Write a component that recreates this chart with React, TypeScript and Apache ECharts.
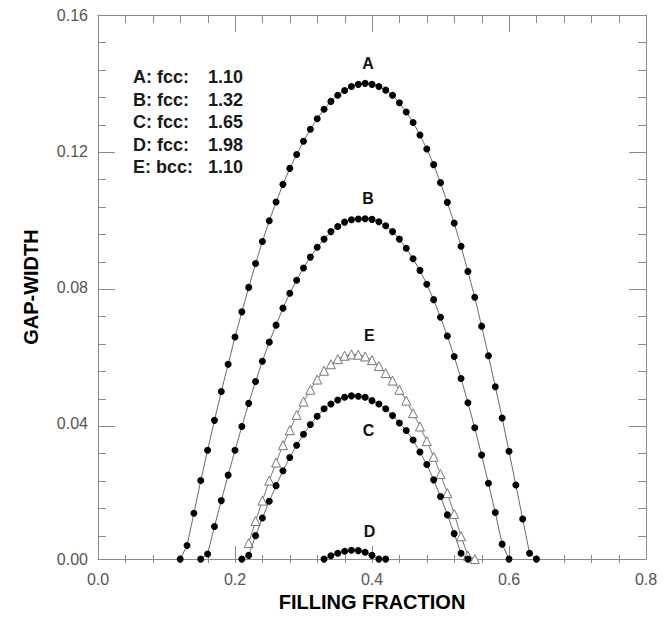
import React, { useEffect, useRef } from "react";
import * as echarts from "echarts";

// Curve A: fcc 1.10
const aX = [0.12, 0.13, 0.14, 0.15, 0.16, 0.17, 0.18, 0.19, 0.20, 0.21, 0.22, 0.23, 0.24, 0.25, 0.26, 0.27, 0.28, 0.29, 0.30, 0.31, 0.32, 0.33, 0.34, 0.35, 0.36, 0.37, 0.38, 0.39, 0.40, 0.41, 0.42, 0.43, 0.44, 0.45, 0.46, 0.47, 0.48, 0.49, 0.50, 0.51, 0.52, 0.53, 0.54, 0.55, 0.56, 0.57, 0.58, 0.59, 0.60, 0.61, 0.62, 0.63, 0.64];
const aY = [0, 0.0040, 0.0135, 0.0231, 0.0320, 0.0408, 0.0493, 0.0573, 0.0653, 0.0727, 0.0799, 0.0869, 0.0934, 0.0995, 0.1050, 0.1102, 0.1149, 0.1190, 0.1229, 0.1264, 0.1295, 0.1323, 0.1346, 0.1364, 0.1378, 0.1390, 0.1396, 0.1399, 0.1396, 0.1390, 0.1379, 0.1364, 0.1342, 0.1315, 0.1284, 0.1247, 0.1206, 0.1160, 0.1107, 0.1049, 0.0988, 0.0920, 0.0846, 0.0770, 0.0685, 0.0598, 0.0507, 0.0415, 0.0317, 0.0218, 0.0118, 0.0017, 0];

// Curve B: fcc 1.32
const bX = [0.15, 0.16, 0.17, 0.18, 0.19, 0.20, 0.21, 0.22, 0.23, 0.24, 0.25, 0.26, 0.27, 0.28, 0.29, 0.30, 0.31, 0.32, 0.33, 0.34, 0.35, 0.36, 0.37, 0.38, 0.39, 0.40, 0.41, 0.42, 0.43, 0.44, 0.45, 0.46, 0.47, 0.48, 0.49, 0.50, 0.51, 0.52, 0.53, 0.54, 0.55, 0.56, 0.57, 0.58, 0.59, 0.60];
const bY = [0, 0.0015, 0.0096, 0.0172, 0.0247, 0.0320, 0.0390, 0.0458, 0.0522, 0.0582, 0.0638, 0.0688, 0.0738, 0.0782, 0.0820, 0.0856, 0.0888, 0.0917, 0.0941, 0.0963, 0.0978, 0.0991, 0.0998, 0.1000, 0.1001, 0.0999, 0.0992, 0.0980, 0.0963, 0.0941, 0.0914, 0.0883, 0.0849, 0.0808, 0.0763, 0.0711, 0.0656, 0.0596, 0.0531, 0.0460, 0.0386, 0.0306, 0.0223, 0.0137, 0.0044, 0];

// Curve C: fcc 1.65
const cX = [0.21, 0.22, 0.23, 0.24, 0.25, 0.26, 0.27, 0.28, 0.29, 0.30, 0.31, 0.32, 0.33, 0.34, 0.35, 0.36, 0.37, 0.38, 0.39, 0.40, 0.41, 0.42, 0.43, 0.44, 0.45, 0.46, 0.47, 0.48, 0.49, 0.50, 0.51, 0.52, 0.53, 0.54];
const cY = [0, 0.0011, 0.0069, 0.0121, 0.0170, 0.0216, 0.0260, 0.0299, 0.0335, 0.0367, 0.0396, 0.0420, 0.0442, 0.0456, 0.0468, 0.0476, 0.0480, 0.0479, 0.0476, 0.0466, 0.0456, 0.0442, 0.0422, 0.0400, 0.0378, 0.0350, 0.0315, 0.0278, 0.0233, 0.0184, 0.0130, 0.0075, 0.0017, 0];

// Curve D: fcc 1.98
const dX = [0.33, 0.34, 0.35, 0.36, 0.37, 0.38, 0.39, 0.40, 0.41, 0.42];
const dY = [0, 0.0010, 0.0017, 0.0023, 0.0026, 0.0025, 0.0020, 0.0011, 0, 0];

// Curve E: bcc 1.10
const eX = [0.22, 0.23, 0.24, 0.25, 0.26, 0.27, 0.28, 0.29, 0.30, 0.31, 0.32, 0.33, 0.34, 0.35, 0.36, 0.37, 0.38, 0.39, 0.40, 0.41, 0.42, 0.43, 0.44, 0.45, 0.46, 0.47, 0.48, 0.49, 0.50, 0.51, 0.52, 0.53, 0.54, 0.55];
const eY = [0.0047, 0.0112, 0.0172, 0.0231, 0.0284, 0.0335, 0.0379, 0.0424, 0.0463, 0.0498, 0.0528, 0.0554, 0.0573, 0.0588, 0.0598, 0.0602, 0.0601, 0.0596, 0.0585, 0.0568, 0.0547, 0.0525, 0.0498, 0.0466, 0.0429, 0.0390, 0.0347, 0.0301, 0.0250, 0.0194, 0.0133, 0.0067, 0.0010, 0];

const legendNames = ["A: fcc:", "B: fcc:", "C: fcc:", "D: fcc:", "E: bcc:"];
const legendValues = ["1.10", "1.32", "1.65", "1.98", "1.10"];

// axis ranges
const X_MIN = 0, X_MAX = 0.8, X_STEP = 0.2, X_MINOR = 0.04;
const Y_MIN = 0, Y_MAX = 0.16, Y_STEP = 0.04, Y_MINOR = 0.008;

const W = 667, H = 617;
const GRID = { left: 98, right: 21, top: 15, bottom: 54 };

const FONT = '"Liberation Sans", Arial, Helvetica, sans-serif';
const AXIS_COLOR = "#8a8a8a";

function pairs(xs: number[], ys: number[]) {
  return xs.map((x, i) => [x, ys[i]]);
}

function frame() {
  return {
    axisLine: { show: true, onZero: false, lineStyle: { color: AXIS_COLOR, width: 1 } },
    axisTick: { show: false },
    splitLine: { show: false },
  };
}

// tick marks of the frame (inside, on all four sides), drawn as thin filled rects
function buildTicks() {
  const xL = GRID.left, xR = W - GRID.right, yT = GRID.top, yB = H - GRID.bottom;
  const xp = (v: number) => xL + ((v - X_MIN) / (X_MAX - X_MIN)) * (xR - xL);
  const yp = (v: number) => yB - ((v - Y_MIN) / (Y_MAX - Y_MIN)) * (yB - yT);
  const els: any[] = [];
  const tickRect = (x: number, y: number, w: number, h: number) => ({
    type: "rect",
    shape: { x, y, width: w, height: h },
    style: { fill: AXIS_COLOR },
  });
  const nx = Math.round((X_MAX - X_MIN) / X_MINOR);
  const perX = Math.round(X_STEP / X_MINOR);
  for (let i = 1; i < nx; i++) {
    const len = i % perX === 0 ? 17 : 8;
    const px = Math.round(xp(X_MIN + i * X_MINOR));
    els.push(tickRect(px, yB - len, 1, len));
    els.push(tickRect(px, yT, 1, len));
  }
  const ny = Math.round((Y_MAX - Y_MIN) / Y_MINOR);
  const perY = Math.round(Y_STEP / Y_MINOR);
  for (let i = 1; i < ny; i++) {
    const len = i % perY === 0 ? 17 : 8;
    const py = Math.round(yp(Y_MIN + i * Y_MINOR));
    els.push(tickRect(xL, py, len, 1));
    els.push(tickRect(xR - len, py, len, 1));
  }
  return els;
}

export default function App() {
  const ref = useRef<HTMLDivElement>(null);
  useEffect(() => {
    if (!ref.current) return;
    const chart = echarts.init(ref.current, null, { renderer: "svg" });
    const labelStyle = { color: "#555", fontSize: 16, fontFamily: FONT };

    const mkLabel = (txt: string, dx: number, dy: number) => ({
      symbol: "circle",
      symbolSize: 0,
      silent: true,
      data: [{ type: "max" }],
      label: {
        show: true,
        position: "inside",
        formatter: txt,
        offset: [dx, dy],
        color: "#111",
        fontSize: 16,
        fontWeight: "bold",
        fontFamily: FONT,
      },
    });

    const dotSeries = (name: string, xs: number[], ys: number[], lbl: any) => ({
      name,
      type: "line",
      data: pairs(xs, ys),
      symbol: "circle",
      symbolSize: 7,
      showSymbol: true,
      lineStyle: { color: "#6a6a6a", width: 1 },
      itemStyle: { color: "#000", borderWidth: 0 },
      markPoint: lbl,
      z: 3,
    });

    const textEls: any[] = [
      ...legendNames.map((t, i) => ({
        type: "text",
        x: 133,
        y: 77 + i * 22.6,
        style: { text: t, fill: "#1a1a1a", fontSize: 18, fontWeight: "bold", fontFamily: FONT, verticalAlign: "middle" },
      })),
      ...legendValues.map((t, i) => ({
        type: "text",
        x: 208,
        y: 77 + i * 22.6,
        style: { text: t, fill: "#1a1a1a", fontSize: 18, fontWeight: "bold", fontFamily: FONT, verticalAlign: "middle" },
      })),
    ];

    const option: any = {
      animation: false,
      grid: { ...GRID },
      xAxis: [
        {
          type: "value",
          min: X_MIN,
          max: X_MAX,
          interval: X_STEP,
          position: "bottom",
          name: "FILLING FRACTION",
          nameLocation: "middle",
          nameGap: 31,
          nameTextStyle: { color: "#000", fontSize: 20, fontWeight: "bold", fontFamily: FONT },
          ...frame(),
          axisLabel: { ...labelStyle, margin: 12, formatter: (v: number) => v.toFixed(1) },
        },
        {
          type: "value",
          min: X_MIN,
          max: X_MAX,
          interval: X_STEP,
          position: "top",
          ...frame(),
          axisLabel: { show: false },
        },
      ],
      yAxis: [
        {
          type: "value",
          min: Y_MIN,
          max: Y_MAX,
          interval: Y_STEP,
          position: "left",
          name: "GAP-WIDTH",
          nameLocation: "middle",
          nameGap: 57,
          nameTextStyle: { color: "#000", fontSize: 20, fontWeight: "bold", fontFamily: FONT },
          ...frame(),
          axisLabel: { ...labelStyle, margin: 10, formatter: (v: number) => v.toFixed(2) },
        },
        {
          type: "value",
          min: Y_MIN,
          max: Y_MAX,
          interval: Y_STEP,
          position: "right",
          ...frame(),
          axisLabel: { show: false },
        },
      ],
      series: [
        dotSeries("A", aX, aY, mkLabel("A", 3, -20)),
        dotSeries("B", bX, bY, mkLabel("B", 3, -20)),
        {
          name: "E",
          type: "line",
          data: pairs(eX, eY),
          symbol: "triangle",
          symbolSize: 9,
          showSymbol: true,
          lineStyle: { color: "#7a7a7a", width: 1 },
          itemStyle: { color: "#fff", borderColor: "#777", borderWidth: 1 },
          markPoint: mkLabel("E", 18, -19),
          z: 2,
        },
        dotSeries("C", cX, cY, mkLabel("C", 17, 35)),
        dotSeries("D", dX, dY, mkLabel("D", 18, -19)),
      ],
      graphic: [...textEls, ...buildTicks()],
    };
    chart.setOption(option);
    return () => chart.dispose();
  }, []);
  return (
    <div
      ref={ref}
      style={{ position: "fixed", left: 0, top: 0, width: W, height: H, background: "#fff" }}
    />
  );
}
